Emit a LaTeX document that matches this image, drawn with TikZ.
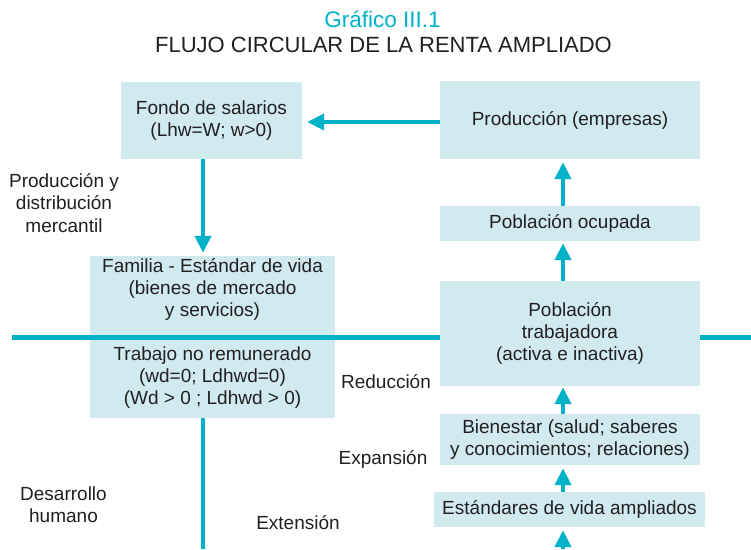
\documentclass[tikz,border=0pt]{standalone}
\usepackage{fontspec}
\setmainfont{Liberation Sans}
\usetikzlibrary{arrows.meta,calc}
\definecolor{cy}{RGB}{0,178,200}
\definecolor{boxfill}{RGB}{208,234,240}
\definecolor{ink}{RGB}{35,31,32}
\begin{document}
\begin{tikzpicture}[x=1pt,y=-1pt,
  every node/.style={text=ink,font=\fontsize{19}{22.3}\selectfont},
  box/.style={fill=boxfill,draw=none,inner sep=0pt,align=center},
  lbl/.style={align=center,inner sep=0pt},
  arr/.style={draw=cy,line width=4pt,-{Triangle[width=16pt,length=17pt]},shorten >=3pt},
  axis/.style={draw=cy,line width=5pt},
  stem/.style={draw=cy,line width=3.2pt}]
\useasboundingbox (0,0) rectangle (751,549);

% title
\node[lbl,text=cy,font=\fontsize{22.5}{25}\selectfont] (gtitle) at (382.5,19) {Gráfico III.1};
\node[lbl,font=\fontsize{22}{25}\selectfont] (mtitle) at (383.5,45) {FLUJO CIRCULAR DE LA RENTA AMPLIADO};

% left column
\node[box,minimum width=181pt,minimum height=77pt] (fondo) at (211.5,120.5) {Fondo de salarios\\(Lhw=W; w>0)};
\node[box,minimum width=245pt,minimum height=81pt] (fam) at (212.5,296.5) {};
\node[lbl] (famtxt) at (212.5,289.5) {Familia - Estándar de vida\\(bienes de mercado\\y servicios)};
\node[box,minimum width=245pt,minimum height=81pt] (trab) at (212.5,377.5) {Trabajo no remunerado\\(wd=0; Ldhwd=0)\\(Wd > 0 ; Ldhwd > 0)};

% right column
\node[box,minimum width=260pt,minimum height=78pt] (prod) at (570,120) {Producción (empresas)};
\node[box,minimum width=260pt,minimum height=35pt] (ocup) at (570,223.5) {Población ocupada};

% horizontal axis
\coordinate (axl) at (12,337);
\coordinate (axr) at (751,337);
\draw[axis] (axl) -- (axr);

\node[box,minimum width=260pt,minimum height=105pt] (ptrab) at (570,333.5) {Población\\trabajadora\\(activa e inactiva)};
\node[box,minimum width=260pt,minimum height=51pt] (bien) at (570,439.5) {Bienestar (salud; saberes\\y conocimientos; relaciones)};
\node[box,minimum width=271pt,minimum height=35pt] (est) at (569.5,509.5) {Estándares de vida ampliados};

% side labels
\node[lbl] (pdm) at (64,203) {Producción y\\distribución\\mercantil};
\node[lbl] (dh) at (63.5,505) {Desarrollo\\humano};
\node[lbl] (red) at (386,382) {Reducción};
\node[lbl] (exp) at (383,459) {Expansión};
\node[lbl] (ext) at (298,523) {Extensión};

% connectors
\coordinate (xl) at (203,549);
\coordinate (xr) at (563,549);
\coordinate (yh) at (0,122);
\draw[arr,shorten >=5pt] (prod.west |- yh) -- (fondo.east |- yh);
\draw[arr] (fondo.south -| xl) -- (fam.north -| xl);
\draw[stem] (trab.south -| xl) -- (xl);
\draw[arr] (xr) -- (est.south -| xr);
\draw[arr] (est.north -| xr) -- (bien.south -| xr);
\draw[arr,shorten >=1pt] (bien.north -| xr) -- (ptrab.south -| xr);
\draw[arr,shorten >=2pt] (ptrab.north -| xr) -- (ocup.south -| xr);
\draw[arr] (ocup.north -| xr) -- (prod.south -| xr);
\end{tikzpicture}
\end{document}
